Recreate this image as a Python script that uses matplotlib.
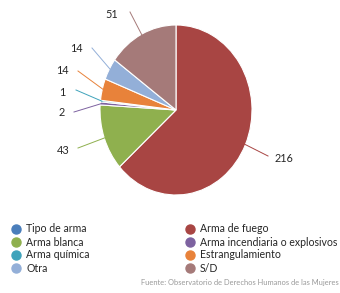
import numpy as np
import matplotlib
matplotlib.use("Agg")
import matplotlib.pyplot as plt
from matplotlib.lines import Line2D

categories = ["Tipo de arma", "Arma de fuego", "Arma blanca", "Arma incendiaria o explosivos",
              "Arma química", "Estrangulamiento", "Otra", "S/D"]
values = [0, 216, 43, 2, 1, 14, 14, 51]
colors = ["#4a7ebb", "#a84543", "#8fb04e", "#7d62a0", "#3fa3bb", "#e8823a", "#93afd8", "#a57a79"]

plt.rcParams["font.family"] = ["Lato", "DejaVu Sans"]

W, H = 340, 293
fig = plt.figure(figsize=(W / 100, H / 100), dpi=100)

# pie area (pixels): centre and radii
cx, cy, rx, ry = 176, 110, 76, 85
ax = fig.add_axes([(cx - rx) / W, (H - cy - ry) / H, 2 * rx / W, 2 * ry / H])

idx = [i for i, v in enumerate(values) if v > 0]
wedges, _ = ax.pie([values[i] for i in idx], colors=[colors[i] for i in idx],
                   startangle=90, counterclock=False, radius=1,
                   wedgeprops=dict(edgecolor="white", linewidth=0.8))
ax.set_aspect("auto")
ax.set_xlim(-1, 1)
ax.set_ylim(-1, 1)
ax.axis("off")

# label positions in pixels
label_pos = {1: (284, 158), 2: (63, 150), 3: (62, 113), 4: (62, 92),
             5: (62, 71), 6: (76, 49), 7: (112, 14)}
elbow = {1: (268, 156), 2: (78, 148), 3: (74, 112), 4: (76, 90),
         5: (78, 71), 6: (92, 48), 7: (130, 12)}


def to_data(p):
    return (p[0] - cx) / rx, (cy - p[1]) / ry


for w, i in zip(wedges, idx):
    ang = np.deg2rad((w.theta1 + w.theta2) / 2)
    x0, y0 = np.cos(ang) * 0.98, np.sin(ang) * 0.98
    ex, ey = to_data(elbow[i])
    lx, ly = to_data(label_pos[i])
    ax.plot([x0, ex], [y0, ey], color=colors[i], lw=0.7, clip_on=False)
    ax.text(lx, ly, str(values[i]), ha="center", va="center", fontsize=7.8,
            color="#262626", clip_on=False)

# legend
rows_y = [229, 242, 255, 268]
col_x = [(16, 26), (190, 200)]
for k, (cat, col) in enumerate(zip(categories, colors)):
    r, c = k // 2, k % 2
    mx, tx = col_x[c]
    y = 1 - rows_y[r] / H
    fig.lines.append(Line2D([mx / W], [y], marker="o", markersize=6.5, color=col,
                            transform=fig.transFigure))
    fig.text(tx / W, y, cat, fontsize=7.6, va="center", ha="left", color="#262626")

fig.text(339 / W, 1 - 283 / H, "Fuente: Observatorio de Derechos Humanos de las Mujeres",
         fontsize=5.4, ha="right", va="center", color="#999999")

fig.savefig("out.png", dpi=100, facecolor="white")
